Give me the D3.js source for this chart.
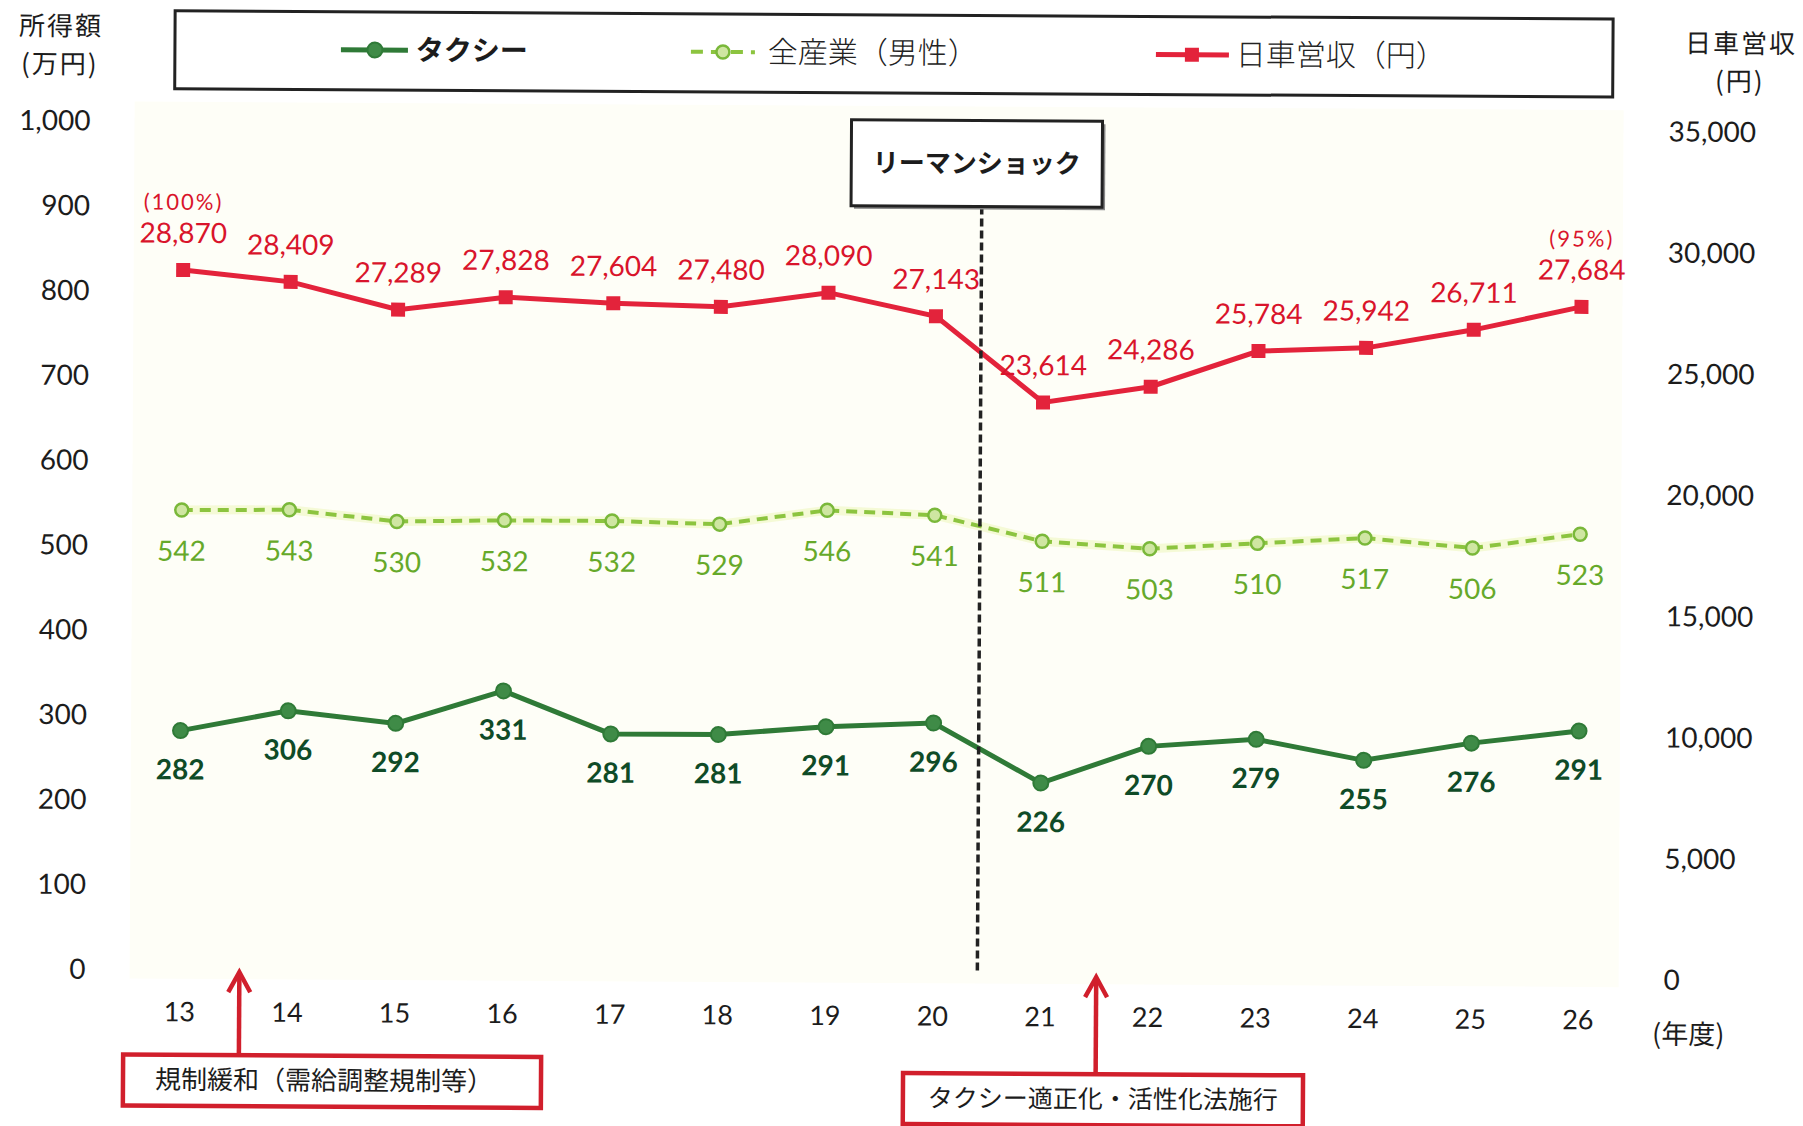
<!DOCTYPE html>
<html><head><meta charset="utf-8">
<script src="https://cdn.jsdelivr.net/npm/d3@7/dist/d3.min.js"></script>
<style>body{margin:0;background:#fff}svg{display:block}</style>
</head><body>
<svg id="chart" width="1803" height="1126"></svg>
<script>
// ---- data ----
const years = ["13","14","15","16","17","18","19","20","21","22","23","24","25","26"];
const taxiIncome = [282,306,292,331,281,281,291,296,226,270,279,255,276,291];
const allIndustryMale = [542,543,530,532,532,529,546,541,511,503,510,517,506,523];
const dailyRevenue = [28870,28409,27289,27828,27604,27480,28090,27143,23614,24286,25784,25942,26711,27684];
const leftTicks = [0,100,200,300,400,500,600,700,800,900,1000];
const rightTicks = [0,5000,10000,15000,20000,25000,30000,35000];
const pctIndex = [0,13];
const pctText = ["(100%)","(95%)"];
const seriesNames = ["タクシー","全産業（男性）","日車営収（円）"];

// ---- styles ----
const NUM = "Lato, 'Noto Sans CJK JP', sans-serif";
const CJK = "'Noto Sans CJK JP', sans-serif";
const RED = "#e3233b", RED_T = "#d9142b";
const DG = "#2f7a37", DG_T = "#0f4b27";
const LG = "#8cc43f", LG_T = "#66a92a";

const svg = d3.select("#chart");
const g = svg.append("g").attr("transform","rotate(0.33 900 560)");

// plot background
g.append("rect").attr("x",132).attr("y",106).attr("width",1489).attr("height",877).attr("fill","#fefef7");

const x = d3.scalePoint().domain(years).range([181.5,1580]);
const yL = d3.scaleLinear().domain([0,1000]).range([974,125.6]);
const yR = d3.scaleLinear().domain([0,35000]).range([974,125.6]);
const step = x.step();

// axes
const axL = g.append("g").attr("transform","translate(88,0)")
  .call(d3.axisLeft(yL).tickValues(leftTicks).tickFormat(d3.format(",")).tickSize(0).tickPadding(0));
axL.select(".domain").remove();
axL.attr("font-family",NUM).attr("font-size",28).attr("color","#1c1c1c");

const axR = g.append("g").attr("transform","translate(1666,2)")
  .call(d3.axisRight(yR).tickValues(rightTicks).tickFormat(d3.format(",")).tickSize(0).tickPadding(0));
axR.select(".domain").remove();
axR.attr("font-family",NUM).attr("font-size",28).attr("color","#1c1c1c");

const axB = g.append("g").attr("transform","translate(0,1016)")
  .call(d3.axisBottom(x).tickSize(0).tickPadding(0));
axB.select(".domain").remove();
axB.attr("font-family",NUM).attr("font-size",27).attr("color","#1c1c1c");
axB.selectAll("text").attr("y",0).attr("dy","0.35em");

// axis titles
function title2(cx, y1, l1, l2, fs, gap){
  const t = g.append("text").attr("text-anchor","middle").attr("font-family",CJK)
    .attr("font-size",fs).attr("letter-spacing",2).attr("fill","#1c1c1c");
  t.append("tspan").attr("x",cx).attr("y",y1).attr("dy","0.35em").text(l1);
  t.append("tspan").attr("x",cx-1).attr("y",y1+gap).attr("dy","0.35em").text(l2);
}
title2(58, 31, "所得額", "(万円)", 26, 38);
title2(1738, 39, "日車営収", "(円)", 26, 38);
g.append("text").attr("x",1691).attr("y",1030).attr("dy","0.35em").attr("text-anchor","middle")
  .attr("font-family",CJK).attr("font-size",27).attr("fill","#1c1c1c").text("(年度)");

// lines
const lineL = d3.line().x((d,i)=>x(years[i])).y(d=>yL(d));
const lineR = d3.line().x((d,i)=>x(years[i])).y(d=>yR(d));

g.append("path").datum(allIndustryMale).attr("d",lineL).attr("fill","none")
  .attr("stroke","#eef6c0").attr("stroke-width",9).attr("opacity",0.6);
g.append("path").datum(allIndustryMale).attr("d",lineL).attr("fill","none")
  .attr("stroke",LG).attr("stroke-width",4).attr("stroke-dasharray","11,7");
g.append("path").datum(dailyRevenue).attr("d",lineR).attr("fill","none")
  .attr("stroke",RED).attr("stroke-width",5);
g.append("path").datum(taxiIncome).attr("d",lineL).attr("fill","none")
  .attr("stroke",DG).attr("stroke-width",5);

// Lehman dashed line
const lehX = x(years[7]) + step*0.42;
g.append("line").attr("x1",lehX).attr("x2",lehX).attr("y1",206).attr("y2",972)
  .attr("stroke","#222").attr("stroke-width",3.5).attr("stroke-dasharray","8,4");

// markers
g.selectAll(".mAll").data(allIndustryMale).join("circle")
  .attr("cx",(d,i)=>x(years[i])).attr("cy",d=>yL(d)).attr("r",6.5)
  .attr("fill","#cfe6a2").attr("stroke","#7ab83a").attr("stroke-width",2.5);
g.selectAll(".mRed").data(dailyRevenue).join("rect")
  .attr("x",(d,i)=>x(years[i])-7).attr("y",d=>yR(d)-7).attr("width",14).attr("height",14)
  .attr("fill",RED);
g.selectAll(".mTaxi").data(taxiIncome).join("circle")
  .attr("cx",(d,i)=>x(years[i])).attr("cy",d=>yL(d)).attr("r",7.5)
  .attr("fill","#3f8b47").attr("stroke",DG).attr("stroke-width",2);

// value labels
const fmt = d3.format(",");
g.selectAll(".lRed").data(dailyRevenue).join("text")
  .attr("text-anchor","middle").attr("font-family",NUM).attr("fill",RED_T)
  .each(function(d,i){
    const t = d3.select(this);
    const k = pctIndex.indexOf(i);
    if(k >= 0){
      t.append("tspan").attr("x",x(years[i])).attr("y",yR(d)-68).attr("dy","0.35em")
        .attr("font-size",22).attr("letter-spacing",2).text(pctText[k]);
    }
    t.append("tspan").attr("x",x(years[i])).attr("y",yR(d)-37).attr("dy","0.35em")
      .attr("font-size",28).text(fmt(d));
  });
g.selectAll(".lAll").data(allIndustryMale).join("text")
  .attr("x",(d,i)=>x(years[i])).attr("y",d=>yL(d)+41).attr("dy","0.35em")
  .attr("text-anchor","middle").attr("font-family",NUM).attr("font-size",28).attr("fill",LG_T)
  .text(d=>d);
g.selectAll(".lTaxi").data(taxiIncome).join("text")
  .attr("x",(d,i)=>x(years[i])).attr("y",d=>yL(d)+39).attr("dy","0.35em")
  .attr("text-anchor","middle").attr("font-family",NUM).attr("font-weight",700).attr("font-size",28).attr("fill",DG_T)
  .text(d=>d);

// Lehman box
g.append("rect").attr("x",852).attr("y",123).attr("width",251).attr("height",86).attr("fill","#888");
g.append("rect").attr("x",849).attr("y",120).attr("width",251).attr("height",86)
  .attr("fill","#fff").attr("stroke","#222").attr("stroke-width",3);
g.append("text").attr("x",974.5).attr("y",163).attr("dy","0.35em").attr("text-anchor","middle")
  .attr("font-family",CJK).attr("font-weight",700).attr("font-size",26).attr("fill","#1c1c1c").text("リーマンショック");

// legend
const lg = g.append("g");
lg.append("rect").attr("x",172).attr("y",15).attr("width",1438).attr("height",78)
  .attr("fill","#fff").attr("stroke","#222").attr("stroke-width",3);
const LY = 53;
lg.append("line").attr("x1",338).attr("x2",405).attr("y1",LY).attr("y2",LY).attr("stroke",DG).attr("stroke-width",5);
lg.append("circle").attr("cx",372).attr("cy",LY).attr("r",7.5).attr("fill","#3f8b47").attr("stroke",DG).attr("stroke-width",2);
lg.append("text").attr("x",413).attr("y",LY).attr("dy","0.35em").attr("font-family",CJK).attr("font-weight",700)
  .attr("font-size",28).attr("fill","#1c1c1c").text(seriesNames[0]);
lg.append("line").attr("x1",688).attr("x2",752).attr("y1",LY).attr("y2",LY).attr("stroke",LG).attr("stroke-width",4).attr("stroke-dasharray","12,8");
lg.append("circle").attr("cx",720).attr("cy",LY).attr("r",6.5).attr("fill","#cfe6a2").attr("stroke","#7ab83a").attr("stroke-width",2.5);
lg.append("text").attr("x",765).attr("y",LY).attr("dy","0.35em").attr("font-family",CJK).attr("font-weight",300)
  .attr("font-size",30).attr("fill","#222").text(seriesNames[1]);
lg.append("line").attr("x1",1153).attr("x2",1226).attr("y1",LY).attr("y2",LY).attr("stroke",RED).attr("stroke-width",5);
lg.append("rect").attr("x",1182).attr("y",LY-7).attr("width",14).attr("height",14).attr("fill",RED);
lg.append("text").attr("x",1233).attr("y",LY).attr("dy","0.35em").attr("font-family",CJK).attr("font-weight",300)
  .attr("font-size",30).attr("fill","#222").text(seriesNames[2]);

// annotations
function arrow(ax, yTop, yBot){
  g.append("line").attr("x1",ax).attr("x2",ax).attr("y1",yBot).attr("y2",yTop+3)
    .attr("stroke","#d11f2c").attr("stroke-width",4.5);
  g.append("path").attr("d",`M${ax-11},${yTop+20} L${ax},${yTop} L${ax+11},${yTop+20}`)
    .attr("fill","none").attr("stroke","#d11f2c").attr("stroke-width",4.5).attr("stroke-linejoin","miter");
}
const a1x = x(years[0]) + step*0.56;
arrow(a1x, 976, 1059);
g.append("rect").attr("x",126).attr("y",1059).attr("width",418).attr("height",51)
  .attr("fill","#fff").attr("stroke","#d11f2c").attr("stroke-width",4.5);
g.append("text").attr("x",158).attr("y",1084).attr("dy","0.35em").attr("font-family",CJK)
  .attr("font-size",26).attr("fill","#1c1c1c").text("規制緩和（需給調整規制等）");

const a2x = x(years[8]) + step*0.525;
arrow(a2x, 976, 1073);
g.append("rect").attr("x",906).attr("y",1073).attr("width",400).attr("height",51)
  .attr("fill","#fff").attr("stroke","#d11f2c").attr("stroke-width",4.5);
g.append("text").attr("x",1106).attr("y",1098).attr("dy","0.35em").attr("text-anchor","middle").attr("font-family",CJK)
  .attr("font-size",25).attr("fill","#1c1c1c").text("タクシー適正化・活性化法施行");
</script>
</body></html>
